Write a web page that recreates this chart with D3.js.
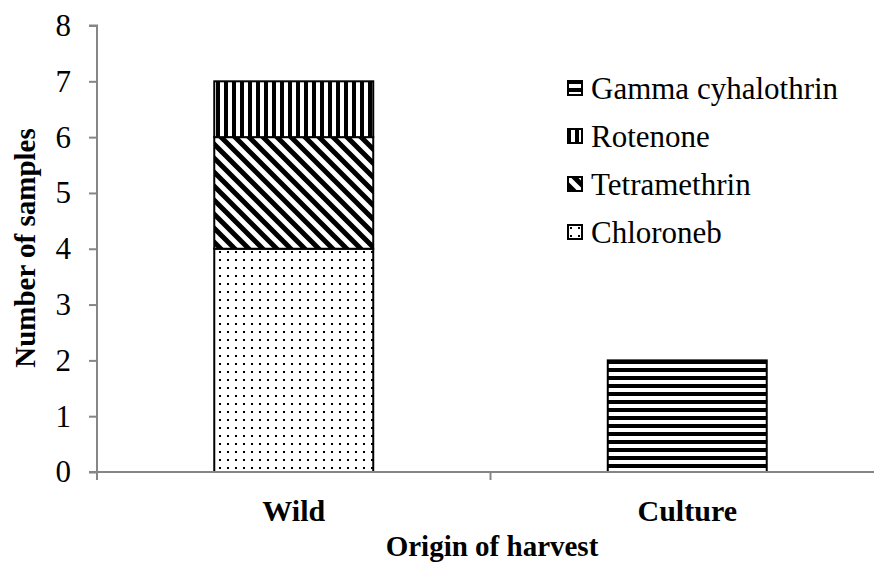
<!DOCTYPE html>
<html>
<head>
<meta charset="utf-8">
<script src="https://cdn.jsdelivr.net/npm/d3@7"></script>
<style>
  body { margin: 0; background: #fff; }
  svg { display: block; }
  text { font-family: "Liberation Serif", "DejaVu Serif", serif; fill: #000; }
</style>
</head>
<body>
<div id="chart"></div>
<script>
// data
var categories = ["Wild", "Culture"];
var seriesNames = ["Chloroneb", "Tetramethrin", "Rotenone", "Gamma cyhalothrin"];
var chloroneb = [4, 0];
var tetramethrin = [2, 0];
var rotenone = [1, 0];
var gammaCyhalothrin = [0, 2];
var yTicks = [0, 1, 2, 3, 4, 5, 6, 7, 8];
var legendOrder = ["Gamma cyhalothrin", "Rotenone", "Tetramethrin", "Chloroneb"];

var seriesValues = {
    "Chloroneb": chloroneb,
    "Tetramethrin": tetramethrin,
    "Rotenone": rotenone,
    "Gamma cyhalothrin": gammaCyhalothrin
};
var patternIds = {
    "Chloroneb": "pDots",
    "Tetramethrin": "pDiag",
    "Rotenone": "pVert",
    "Gamma cyhalothrin": "pHoriz"
};

var width = 874, height = 565;
var axisColor = "#868686";

var svg = d3.select("#chart").append("svg")
    .attr("width", width)
    .attr("height", height);

// fill patterns
var defs = svg.append("defs");

var dots = defs.append("pattern").attr("id", "pDots")
    .attr("patternUnits", "userSpaceOnUse").attr("width", 8).attr("height", 8);
dots.append("rect").attr("width", 8).attr("height", 8).attr("fill", "#fff");
dots.append("rect").attr("x", 3).attr("y", 3).attr("width", 2).attr("height", 2).attr("fill", "#000");

var diag = defs.append("pattern").attr("id", "pDiag")
    .attr("patternUnits", "userSpaceOnUse").attr("width", 14).attr("height", 14);
diag.append("rect").attr("width", 14).attr("height", 14).attr("fill", "#fff");
diag.append("path").attr("d", "M0,0 L14,14 M-7,7 L7,21 M7,-7 L21,7")
    .attr("stroke", "#000").attr("stroke-width", 5);

var vert = defs.append("pattern").attr("id", "pVert")
    .attr("patternUnits", "userSpaceOnUse").attr("width", 8).attr("height", 8);
vert.append("rect").attr("width", 8).attr("height", 8).attr("fill", "#fff");
vert.append("rect").attr("x", 0).attr("width", 4).attr("height", 8).attr("fill", "#000");

var horiz = defs.append("pattern").attr("id", "pHoriz")
    .attr("patternUnits", "userSpaceOnUse").attr("width", 8).attr("height", 8);
horiz.append("rect").attr("width", 8).attr("height", 8).attr("fill", "#fff");
horiz.append("rect").attr("y", 0).attr("width", 8).attr("height", 4).attr("fill", "#000");

// scales
var x = d3.scaleBand().domain(categories).range([97, 884]).padding(0);
var y = d3.scaleLinear().domain([0, 8]).range([472, 25.5]);
var barWidth = x.bandwidth() * 0.404;

var rows = categories.map(function (c, i) {
    var row = {category: c};
    seriesNames.forEach(function (s) { row[s] = seriesValues[s][i]; });
    return row;
});
var stacked = d3.stack().keys(seriesNames)(rows);

// y axis
var yAxis = d3.axisLeft(y).tickValues(yTicks).tickSize(8).tickPadding(18)
    .tickFormat(d3.format("d"));
var gy = svg.append("g").attr("transform", "translate(97,0)").call(yAxis);
gy.attr("font-family", null).attr("font-size", null);
gy.select(".domain").attr("stroke", axisColor).attr("stroke-width", 2)
    .attr("d", "M-8," + y(8) + "H0V" + y(0));
gy.selectAll(".tick line").attr("stroke", axisColor).attr("stroke-width", 2);
gy.selectAll(".tick text").attr("font-size", 31).attr("fill", "#000");

// bars
stacked.forEach(function (layer) {
    svg.append("g").selectAll("rect")
        .data(layer.filter(function (d) { return d[1] - d[0] > 0; }))
        .enter().append("rect")
        .attr("x", function (d) { return x(d.data.category) + (x.bandwidth() - barWidth) / 2; })
        .attr("y", function (d) { return y(d[1]); })
        .attr("width", barWidth)
        .attr("height", function (d) { return y(d[0]) - y(d[1]); })
        .attr("fill", "url(#" + patternIds[layer.key] + ")")
        .attr("stroke", "#000")
        .attr("stroke-width", 2);
});

// x axis
var xAxis = d3.axisBottom(x).tickSize(8).tickFormat("");
var gx = svg.append("g").attr("transform", "translate(0," + y(0) + ")").call(xAxis);
gx.select(".domain").attr("stroke", axisColor).attr("stroke-width", 2)
    .attr("d", "M89,0H884");
gx.selectAll(".tick").remove();
var xTickPos = [97].concat(categories.map(function (c) { return x(c) + x.bandwidth(); }));
gx.selectAll("line.xt").data(xTickPos).enter().append("line")
    .attr("class", "xt")
    .attr("x1", function (d) { return d; }).attr("x2", function (d) { return d; })
    .attr("y1", 0).attr("y2", 8)
    .attr("stroke", axisColor).attr("stroke-width", 2);

svg.selectAll("text.cat").data(categories).enter().append("text")
    .attr("class", "cat")
    .attr("x", function (d) { return x(d) + x.bandwidth() / 2; })
    .attr("y", 521)
    .attr("text-anchor", "middle")
    .attr("font-size", 30)
    .attr("font-weight", "bold")
    .text(function (d) { return d; });

// axis titles
svg.append("text")
    .attr("x", 492).attr("y", 556)
    .attr("text-anchor", "middle")
    .attr("font-size", 29)
    .attr("font-weight", "bold")
    .text("Origin of harvest");

svg.append("text")
    .attr("transform", "translate(35,248) rotate(-90)")
    .attr("text-anchor", "middle")
    .attr("font-size", 29)
    .attr("font-weight", "bold")
    .text("Number of samples");

// legend
var legend = svg.append("g").selectAll("g").data(legendOrder).enter().append("g")
    .attr("transform", function (d, i) { return "translate(567," + (88 + i * 48) + ")"; });
legend.append("rect")
    .attr("x", 1).attr("y", -7).attr("width", 14).attr("height", 14)
    .attr("fill", function (d) { return "url(#" + patternIds[d] + ")"; })
    .attr("stroke", "#000").attr("stroke-width", 2);
legend.append("text")
    .attr("x", 24).attr("y", 11)
    .attr("font-size", 31)
    .text(function (d) { return d; });
</script>
</body>
</html>
